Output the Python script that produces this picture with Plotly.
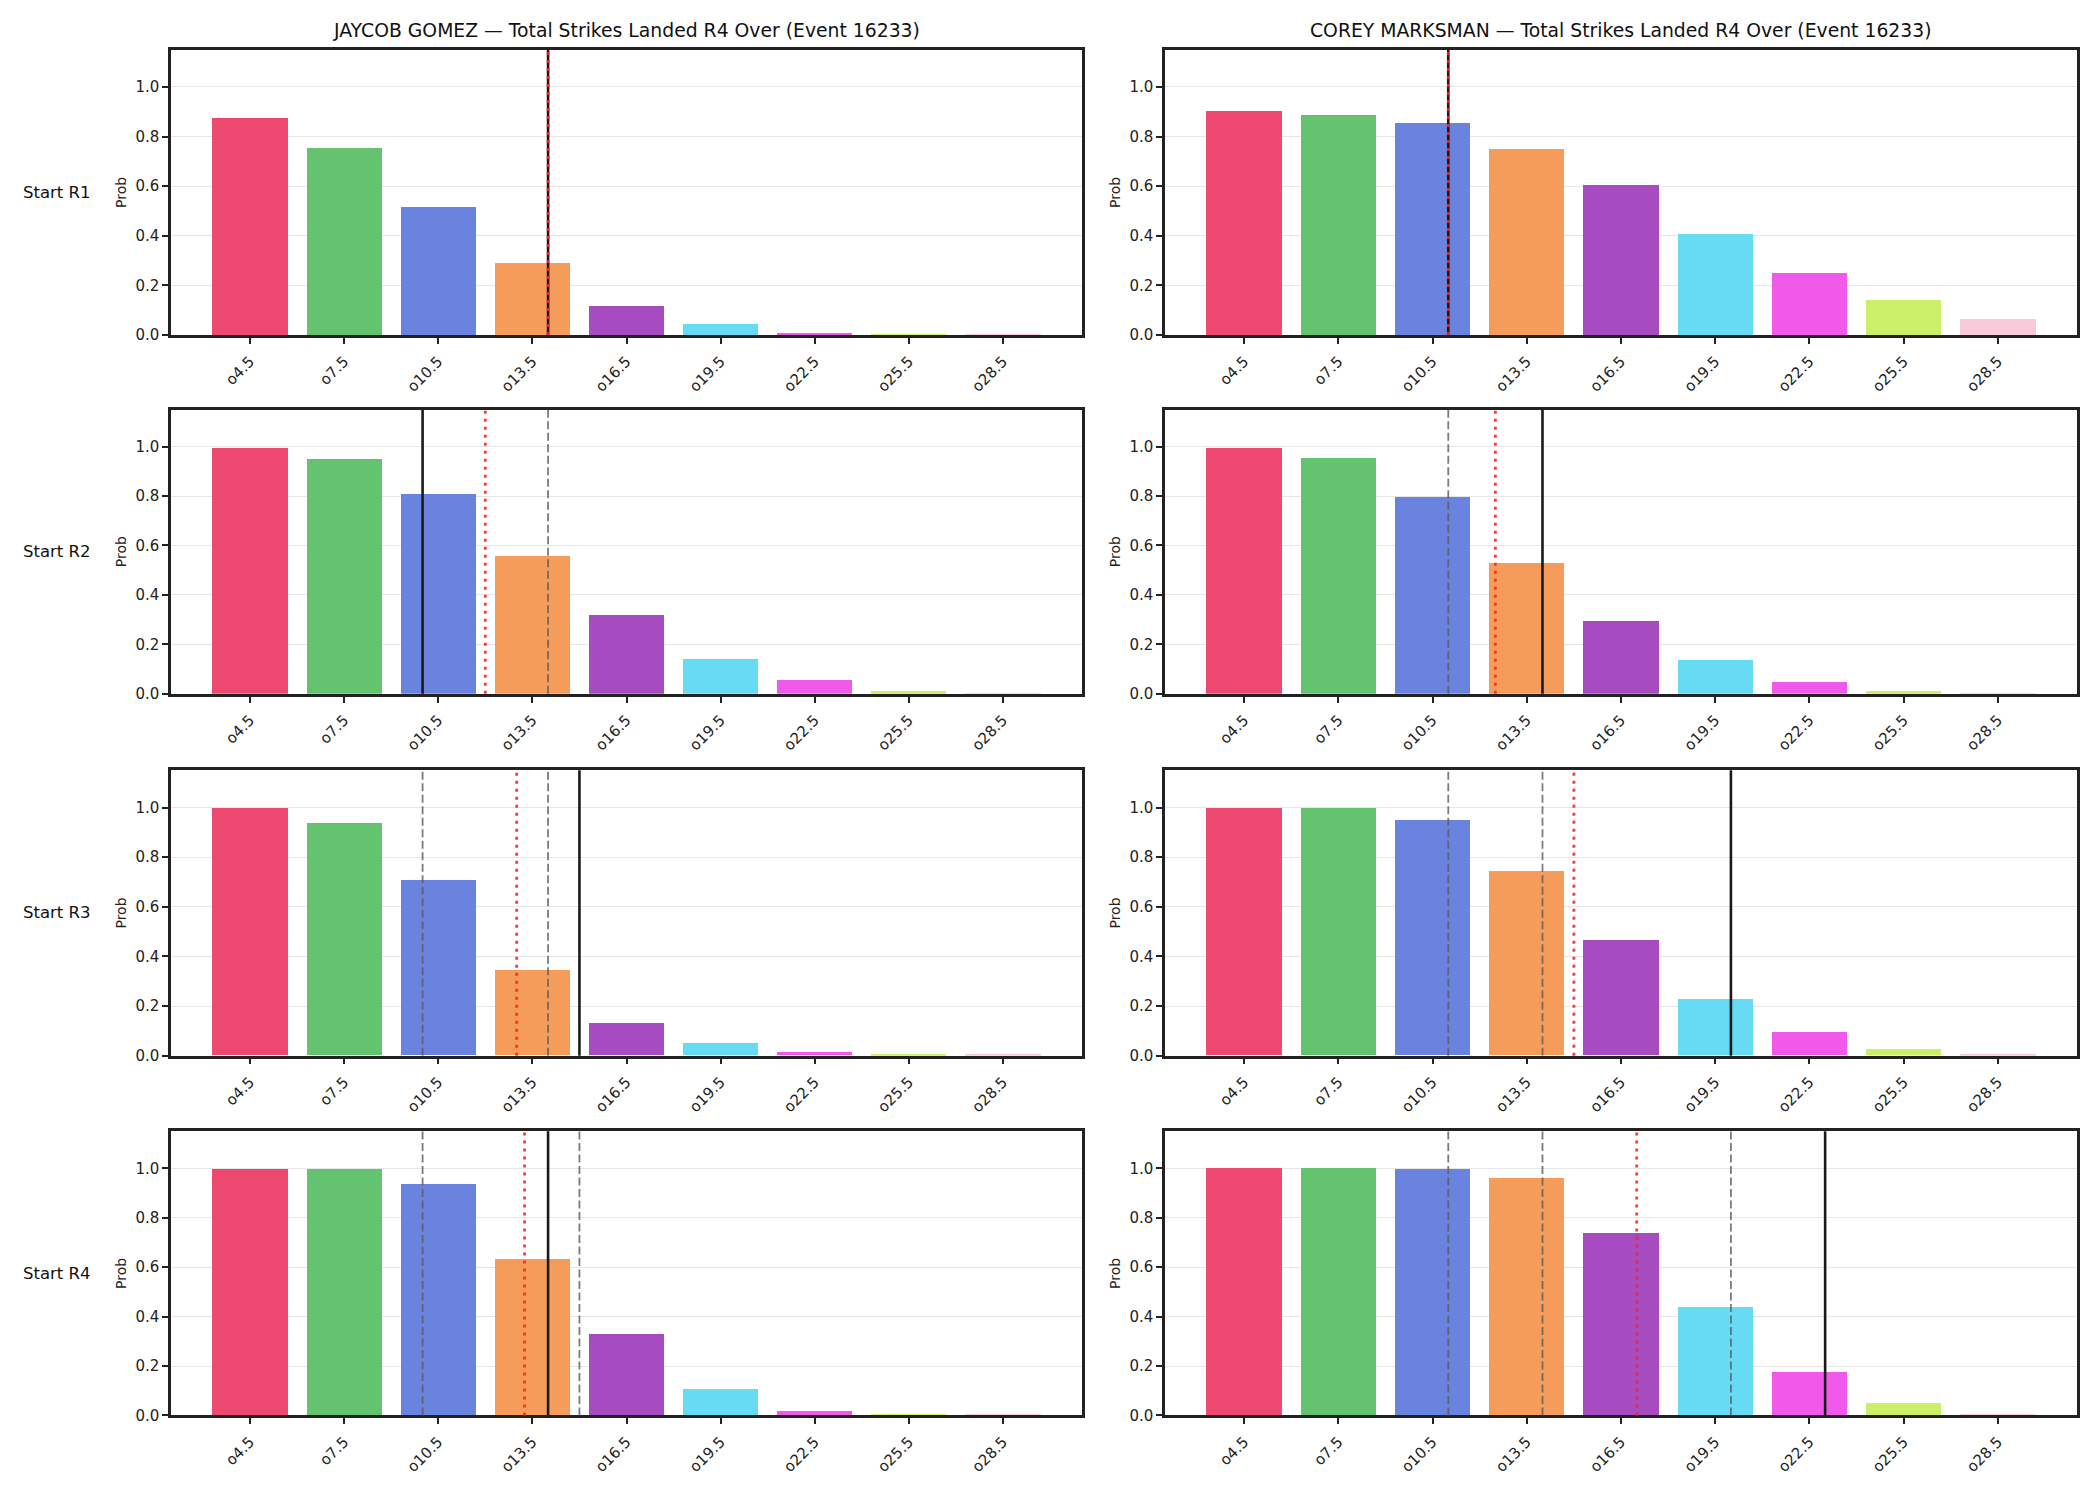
import plotly.graph_objects as go
from plotly.subplots import make_subplots

categories = ["o4.5", "o7.5", "o10.5", "o13.5", "o16.5", "o19.5", "o22.5", "o25.5", "o28.5"]
line_values = [4.5, 7.5, 10.5, 13.5, 16.5, 19.5, 22.5, 25.5, 28.5]
bar_colors = ["#EC4870", "#64C36E", "#6A83DF", "#F59C5B", "#A64BC0",
              "#67DBF4", "#F059E9", "#CBEF67", "#F9CADA"]

fighters = ["JAYCOB GOMEZ", "COREY MARKSMAN"]
row_labels = ["Start R1", "Start R2", "Start R3", "Start R4"]

gomez_r1 = [0.877, 0.756, 0.518, 0.293, 0.117, 0.047, 0.011, 0.004, 0.002]
gomez_r2 = [0.997, 0.953, 0.811, 0.560, 0.322, 0.143, 0.058, 0.013, 0.004]
gomez_r3 = [0.997, 0.937, 0.707, 0.345, 0.129, 0.048, 0.012, 0.005, 0.003]
gomez_r4 = [0.998, 0.998, 0.935, 0.633, 0.327, 0.108, 0.016, 0.004, 0.002]

marksman_r1 = [0.906, 0.889, 0.857, 0.752, 0.604, 0.410, 0.252, 0.144, 0.067]
marksman_r2 = [0.997, 0.957, 0.800, 0.533, 0.298, 0.139, 0.050, 0.013, 0.004]
marksman_r3 = [0.998, 0.998, 0.950, 0.744, 0.463, 0.228, 0.093, 0.027, 0.005]
marksman_r4 = [0.999, 0.999, 0.998, 0.960, 0.738, 0.439, 0.176, 0.051, 0.006]

# vertical reference lines (in strikes)
gomez_round_vals = [14, 10, 15, 14]
gomez_running_avg = [14, 12, 13, 13.25]
marksman_round_vals = [11, 14, 20, 23]
marksman_running_avg = [11, 12.5, 15, 17]

probs = [[gomez_r1, gomez_r2, gomez_r3, gomez_r4],
         [marksman_r1, marksman_r2, marksman_r3, marksman_r4]]
round_vals = [gomez_round_vals, marksman_round_vals]
running_avg = [gomez_running_avg, marksman_running_avg]

W, H = 2100, 1500
col_x = [(171, 1082), (1165, 2077)]
row_y = [(50, 337), (412, 698), (775, 1062), (1138, 1424)]

fig = make_subplots(rows=4, cols=2)
FONT = "DejaVu Sans"

for c in range(2):
    for r in range(4):
        fig.add_trace(go.Bar(x=line_values, y=probs[c][r], width=2.4,
                             marker=dict(color=bar_colors, line=dict(width=0)),
                             showlegend=False), row=r + 1, col=c + 1)
        idx = r * 2 + c + 1
        xa = "xaxis" if idx == 1 else f"xaxis{idx}"
        ya = "yaxis" if idx == 1 else f"yaxis{idx}"
        xr = "x" if idx == 1 else f"x{idx}"
        yr = "y" if idx == 1 else f"y{idx}"
        x0, x1 = col_x[c]
        y0, y1 = row_y[r]
        fig.layout[xa].update(domain=[x0 / W, x1 / W])
        fig.layout[ya].update(domain=[1 - y1 / H, 1 - y0 / H])
        # previous rounds dashed
        for v in round_vals[c][:r]:
            fig.add_shape(type="line", xref=xr, yref=f"{yr} domain", x0=v, x1=v, y0=0, y1=1,
                          line=dict(color="rgba(90,90,90,0.8)", width=1.8, dash="8px,3.5px"))
        v = round_vals[c][r]
        fig.add_shape(type="line", xref=xr, yref=f"{yr} domain", x0=v, x1=v, y0=0, y1=1,
                      line=dict(color="#1a1a1a", width=2.6))
        v = running_avg[c][r]
        fig.add_shape(type="line", xref=xr, yref=f"{yr} domain", x0=v, x1=v, y0=0, y1=1,
                      line=dict(color="rgba(255,35,35,0.9)", width=2.8, dash="3px,5px"))

fig.update_xaxes(range=[1.98, 31.02], tickmode="array", tickvals=line_values, ticktext=categories,
                 tickangle=-45, ticks="outside", ticklen=6, tickwidth=1.8, tickcolor="#222",
                 showline=True, linecolor="#222", linewidth=2.5, mirror=True, showgrid=False,
                 zeroline=False, ticklabelstandoff=3,
                 tickfont=dict(family=FONT, size=15, color="#222"))
fig.update_yaxes(range=[0, 1.15], tickvals=[0, 0.2, 0.4, 0.6, 0.8, 1.0],
                 ticktext=["0.0", "0.2", "0.4", "0.6", "0.8", "1.0"],
                 ticks="outside", ticklen=6, tickwidth=1.8, tickcolor="#222",
                 showline=True, linecolor="#222", linewidth=2.5, mirror=True,
                 showgrid=True, gridcolor="#e6e6e6", gridwidth=1, zeroline=False,
                 tickfont=dict(family=FONT, size=15, color="#222"),
                 title=dict(text="Prob", font=dict(family=FONT, size=14, color="#222"), standoff=6))

annotations = []
for c in range(2):
    x0, x1 = col_x[c]
    annotations.append(dict(text=f"{fighters[c]} — Total Strikes Landed R4 Over (Event 16233)",
                            x=(x0 + x1) / 2 / W, y=1 - 43 / H, xref="paper", yref="paper",
                            xanchor="center", yanchor="bottom", showarrow=False,
                            font=dict(family=FONT, size=18.8, color="#111")))
for r in range(4):
    y0, y1 = row_y[r]
    annotations.append(dict(text=row_labels[r], x=57 / W, y=1 - (y0 + y1) / 2 / H,
                            xref="paper", yref="paper", xanchor="center", yanchor="middle",
                            showarrow=False, font=dict(family=FONT, size=16.5, color="#111")))

fig.update_layout(width=W, height=H, margin=dict(l=0, r=0, t=0, b=0),
                  paper_bgcolor="white", plot_bgcolor="white", bargap=0,
                  annotations=annotations, font=dict(family=FONT))

fig.write_html("out.html")
